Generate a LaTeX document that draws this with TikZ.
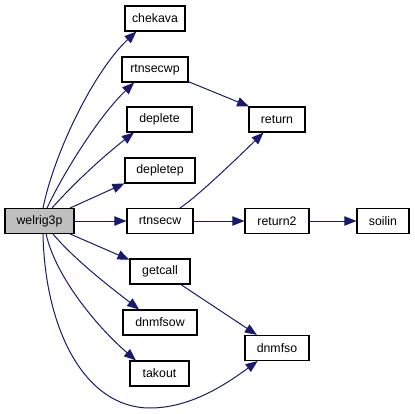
\documentclass[tikz,border=0pt]{standalone}
\usepackage{fontspec}
\setmainfont{Liberation Sans}
\usetikzlibrary{arrows.meta}
\definecolor{edge}{HTML}{191970}
\definecolor{rootfill}{HTML}{BFBFBF}

\begin{document}
\begin{tikzpicture}[x=0.75pt,y=-0.75pt,
  font=\fontsize{9.25}{11}\selectfont,
  call/.style={-{Triangle[length=9pt,width=7pt]},draw=edge,line width=.75pt},
  fn/.style={draw=black,fill=white,line width=.8pt,minimum height=18.75pt,inner sep=0pt},
  root/.style={fn,fill=rootfill}
]
\useasboundingbox (0,0) rectangle (415,414);
% Caller on the left, callees in two columns.
\node[root,minimum width=51.75pt] (welrig3p) at (39.5,221) {welrig3p};
\node[fn,minimum width=45pt] (chekava) at (155,18.5) {chekava};
\node[fn,minimum width=49.5pt] (rtnsecwp) at (155,69.5) {rtnsecwp};
\node[fn,minimum width=48.75pt] (deplete) at (159.5,119.5) {deplete};
\node[fn,minimum width=52.5pt] (depletep) at (160,170.5) {depletep};
\node[fn,minimum width=49.5pt] (rtnsecw) at (160,221) {rtnsecw};
\node[fn,minimum width=45pt] (getcall) at (160,271.5) {getcall};
\node[fn,minimum width=55.5pt] (dnmfsow) at (160,322.5) {dnmfsow};
\node[fn,minimum width=44.25pt] (takout) at (159.5,373.5) {takout};
\node[fn,minimum width=42pt] (return) at (277,119.5) {return};
\node[fn,minimum width=48pt] (return2) at (277,221) {return2};
\node[fn,minimum width=48pt] (dnmfso) at (277,348) {dnmfso};
\node[fn,minimum width=39pt] (soilin) at (383,221) {soilin};
% Calls from welrig3p.
\draw[call] (welrig3p.75) .. controls (55,150) and (95,70) .. (chekava.-145);
\draw[call] (welrig3p.60) .. controls (65,170) and (100,115) .. (rtnsecwp.-148);
\draw[call] (welrig3p.46) .. controls (75,182) and (105,155) .. (deplete.-153);
\draw[call] (welrig3p.23) -- (depletep.-160);
\draw[call] (welrig3p.east) -- (rtnsecw.west);
\draw[call] (welrig3p.-23) -- (getcall.159);
\draw[call] (welrig3p.-44) .. controls (75,260) and (110,287) .. (dnmfsow.148);
\draw[call] (welrig3p.-63) .. controls (55,275) and (95,325) .. (takout.151);
\draw[call] (welrig3p.-75) .. controls (45,330) and (85,408) .. (150,408)
  .. controls (190,408) and (225,385) .. (dnmfso.-146);
% Second level.
\draw[call] (rtnsecwp.-20) -- (return.155);
\draw[call] (rtnsecw.33) .. controls (195,198) and (225,170) .. (return.-136);
\draw[call] (rtnsecw.east) -- (return2.west);
\draw[call] (return2.east) -- (soilin.west);
\draw[call] (getcall.-32) -- (dnmfso.147);
\end{tikzpicture}
\end{document}
